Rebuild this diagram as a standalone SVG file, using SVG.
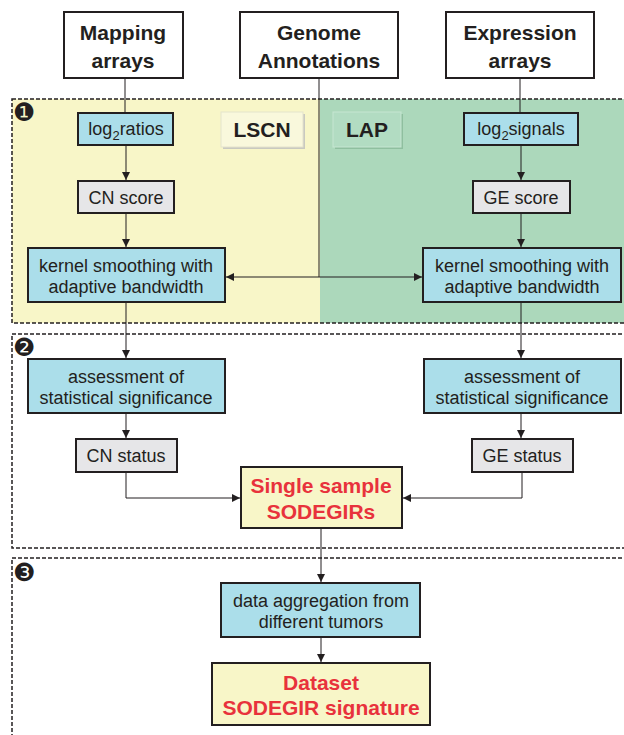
<svg xmlns="http://www.w3.org/2000/svg" width="624" height="735" viewBox="0 0 624 735">
<defs>
<marker id="ah" markerUnits="userSpaceOnUse" markerWidth="9" markerHeight="9" refX="8" refY="4" orient="auto">
<path d="M0,0 L8,4 L0,8 z" fill="#231f20"/>
</marker>
<style>
.t{font-family:"Liberation Sans",Arial,sans-serif;font-size:18px;fill:#231f20;text-anchor:middle}
.h{font-family:"Liberation Sans",Arial,sans-serif;font-size:21px;font-weight:bold;fill:#231f20;text-anchor:middle}
.r{font-family:"Liberation Sans",Arial,sans-serif;font-size:21px;font-weight:bold;fill:#e8323c;text-anchor:middle}
.n{font-family:"DejaVu Sans",sans-serif;font-size:25px;fill:#231f20}
.src{fill:#fff;stroke:#231f20;stroke-width:2}
.blue{fill:#abdeea;stroke:#231f20;stroke-width:2}
.grey{fill:#e6e6e8;stroke:#231f20;stroke-width:2}
.yel{fill:#f8f6c8;stroke:#231f20;stroke-width:2}
.dash{fill:none;stroke:#231f20;stroke-width:1.5;stroke-dasharray:4 2}
.c{fill:none;stroke:#231f20;stroke-width:1}
</style>
</defs>
<!-- regions -->
<g id="region1">
<rect x="12" y="99" width="308" height="224" fill="#f8f6c8"/>
<rect x="320" y="99" width="310" height="224" fill="#acd8bb"/>
<rect x="12" y="99" width="620" height="224" class="dash"/>
<text x="13" y="121" class="n">❶</text>
</g>
<g id="region2">
<rect x="12" y="334" width="620" height="214" class="dash"/>
<text x="13" y="356" class="n">❷</text>
</g>
<g id="region3">
<rect x="12" y="558" width="620" height="190" class="dash"/>
<text x="13" y="581" class="n">❸</text>
</g>
<g id="lscn-label">
<rect x="223" y="114" width="82" height="35" fill="#c9c9c0"/>
<rect x="221" y="112" width="82" height="35" fill="#f9f8dc" stroke="#e4e3cc" stroke-width="1"/>
<text x="262" y="137" class="h">LSCN</text>
</g>
<g id="lap-label">
<rect x="335" y="114" width="68" height="35" fill="#8fbf9f"/>
<rect x="333" y="112" width="68" height="35" fill="#b2dcc2" stroke="#c6e6d2" stroke-width="1"/>
<text x="367" y="137" class="h">LAP</text>
</g>
<!-- connectors -->
<g id="connectors">
<line x1="125" y1="78" x2="125" y2="113" class="c"/>
<line x1="520" y1="78" x2="520" y2="113" class="c"/>
<line x1="319" y1="78" x2="319" y2="277" class="c"/>
<line x1="319" y1="277" x2="226" y2="277" class="c" marker-end="url(#ah)"/>
<line x1="319" y1="277" x2="422" y2="277" class="c" marker-end="url(#ah)"/>
<line x1="126" y1="145" x2="126" y2="180" class="c" marker-end="url(#ah)"/>
<line x1="126" y1="213" x2="126" y2="247" class="c" marker-end="url(#ah)"/>
<line x1="521" y1="145" x2="521" y2="180" class="c" marker-end="url(#ah)"/>
<line x1="521" y1="213" x2="521" y2="247" class="c" marker-end="url(#ah)"/>
<line x1="126" y1="302" x2="126" y2="358" class="c" marker-end="url(#ah)"/>
<line x1="521" y1="302" x2="521" y2="358" class="c" marker-end="url(#ah)"/>
<line x1="126" y1="413" x2="126" y2="438" class="c" marker-end="url(#ah)"/>
<line x1="521" y1="413" x2="521" y2="438" class="c" marker-end="url(#ah)"/>
<polyline points="126,472 126,498 240,498" class="c" marker-end="url(#ah)"/>
<polyline points="522,472 522,498 403,498" class="c" marker-end="url(#ah)"/>
<line x1="321" y1="528" x2="321" y2="582" class="c" marker-end="url(#ah)"/>
<line x1="321" y1="637" x2="321" y2="662" class="c" marker-end="url(#ah)"/>
</g>
<!-- nodes -->
<g id="mapping-arrays">
<rect x="64" y="12" width="119" height="66" class="src"/>
<text x="123" y="40" class="h">Mapping</text>
<text x="123" y="68" class="h">arrays</text>
</g>
<g id="genome-annotations">
<rect x="240" y="12" width="158" height="66" class="src"/>
<text x="319" y="40" class="h">Genome</text>
<text x="319" y="68" class="h">Annotations</text>
</g>
<g id="expression-arrays">
<rect x="446" y="12" width="148" height="66" class="src"/>
<text x="520" y="40" class="h">Expression</text>
<text x="520" y="68" class="h">arrays</text>
</g>
<g id="log2ratios">
<rect x="78" y="113" width="95" height="32" class="blue"/>
<text x="126" y="135" class="t">log<tspan font-size="13" dy="5">2</tspan><tspan dy="-5">ratios</tspan></text>
</g>
<g id="log2signals">
<rect x="464" y="113" width="114" height="32" class="blue"/>
<text x="521" y="135" class="t">log<tspan font-size="13" dy="5">2</tspan><tspan dy="-5">signals</tspan></text>
</g>
<g id="cn-score">
<rect x="78" y="181" width="96" height="32" class="grey"/>
<text x="126" y="204" class="t">CN score</text>
</g>
<g id="ge-score">
<rect x="473" y="181" width="97" height="32" class="grey"/>
<text x="521" y="204" class="t">GE score</text>
</g>
<g id="kernel-left">
<rect x="28" y="248" width="197" height="54" class="blue"/>
<text x="126" y="272" class="t">kernel smoothing with</text>
<text x="126" y="293" class="t">adaptive bandwidth</text>
</g>
<g id="kernel-right">
<rect x="423" y="248" width="198" height="54" class="blue"/>
<text x="522" y="272" class="t">kernel smoothing with</text>
<text x="522" y="293" class="t">adaptive bandwidth</text>
</g>
<g id="assess-left">
<rect x="28" y="359" width="197" height="54" class="blue"/>
<text x="126" y="383" class="t">assessment of</text>
<text x="126" y="404" class="t">statistical significance</text>
</g>
<g id="assess-right">
<rect x="424" y="359" width="197" height="54" class="blue"/>
<text x="522" y="383" class="t">assessment of</text>
<text x="522" y="404" class="t">statistical significance</text>
</g>
<g id="cn-status">
<rect x="76" y="439" width="101" height="33" class="grey"/>
<text x="126" y="462" class="t">CN status</text>
</g>
<g id="ge-status">
<rect x="472" y="439" width="101" height="33" class="grey"/>
<text x="522" y="462" class="t">GE status</text>
</g>
<g id="single-sample">
<rect x="241" y="467" width="161" height="61" class="yel"/>
<text x="321" y="493" class="r">Single sample</text>
<text x="321" y="519" class="r">SODEGIRs</text>
</g>
<g id="data-aggregation">
<rect x="221" y="583" width="199" height="54" class="blue"/>
<text x="321" y="607" class="t">data aggregation from</text>
<text x="321" y="628" class="t">different tumors</text>
</g>
<g id="dataset-signature">
<rect x="212" y="663" width="218" height="62" class="yel"/>
<text x="321" y="690" class="r">Dataset</text>
<text x="321" y="715" class="r">SODEGIR signature</text>
</g>
</svg>
